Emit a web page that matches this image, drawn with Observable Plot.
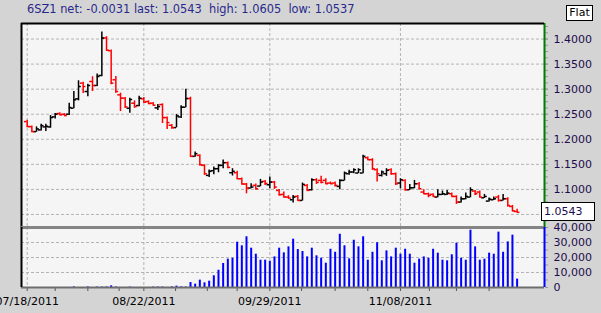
<!DOCTYPE html>
<html><head><meta charset="utf-8">
<script src="https://cdn.jsdelivr.net/npm/d3@7"></script>
<script src="https://cdn.jsdelivr.net/npm/@observablehq/plot@0.6"></script>
<style>
body{margin:0;background:#d4d4d4;}
#wrap{position:relative;width:601px;height:313px;overflow:hidden;background:#d4d4d4;font-family:"DejaVu Sans",sans-serif;}
#wrap svg{position:absolute;left:0;top:0;overflow:visible;background:none;}
#title{position:absolute;left:27px;top:2px;font-size:11.4px;line-height:14px;color:#28288c;white-space:pre;}
#flat{position:absolute;left:566px;top:5px;width:25px;height:14px;border:1px solid #000;background:#fff;font-size:11px;line-height:14px;text-align:center;color:#000;}
#last{position:absolute;left:541px;width:50px;height:17px;border:1px solid #000;background:#fff;font-size:11px;line-height:17px;padding-left:2px;color:#1c0c4c;z-index:5;}
</style></head><body><div id="wrap"><div id="title"></div><div id="flat">Flat</div></div>
<script>
const symbol = "6SZ1";
const open = [1.2353,1.2253,1.2153,1.2187,1.2247,1.2247,1.2447,1.2513,1.2500,1.2500,
 1.2620,1.2807,1.3120,1.2953,1.3153,1.3073,1.3273,1.4020,1.3767,1.3187,
 1.2887,1.2820,1.2620,1.2720,1.2673,1.2807,1.2753,1.2720,1.2627,1.2693,
 1.2433,1.2280,1.2233,1.2447,1.2640,1.2813,1.1660,1.1680,1.1480,1.1280,
 1.1373,1.1413,1.1480,1.1533,1.1333,1.1333,1.1213,1.1107,1.1027,1.1080,
 1.1067,1.1160,1.1093,1.1147,1.0980,1.0900,1.0847,1.0793,1.0860,1.0780,
 1.1080,1.0993,1.1193,1.1180,1.1180,1.1127,1.1127,1.1060,1.1180,1.1313,
 1.1347,1.1327,1.1327,1.1633,1.1593,1.1393,1.1280,1.1313,1.1393,1.1313,
 1.1127,1.1180,1.0993,1.1033,1.1113,1.0947,1.0913,1.0900,1.0847,1.0900,
 1.0900,1.0913,1.0860,1.0747,1.0813,1.0847,1.0967,1.0947,1.0833,1.0767,
 1.0793,1.0847,1.0780,1.0813,1.0660,1.0560];
const high = [1.2380,1.2267,1.2247,1.2300,1.2300,1.2473,1.2513,1.2527,1.2513,1.2720,
 1.2953,1.3167,1.3140,1.3100,1.3247,1.3300,1.4140,1.4047,1.3780,1.3253,
 1.2920,1.2833,1.2820,1.2767,1.2860,1.2833,1.2767,1.2733,1.2693,1.2707,
 1.2447,1.2293,1.2493,1.2667,1.3000,1.2840,1.1747,1.1693,1.1493,1.1387,
 1.1447,1.1493,1.1587,1.1547,1.1413,1.1360,1.1227,1.1120,1.1113,1.1107,
 1.1200,1.1180,1.1247,1.1160,1.1000,1.0947,1.0873,1.0880,1.0880,1.1127,
 1.1100,1.1213,1.1213,1.1260,1.1213,1.1147,1.1147,1.1193,1.1347,1.1380,
 1.1413,1.1413,1.1680,1.1647,1.1613,1.1413,1.1367,1.1413,1.1413,1.1327,
 1.1213,1.1193,1.1100,1.1180,1.1140,1.0993,1.0927,1.0913,1.0993,1.0967,
 1.0980,1.0927,1.0873,1.0847,1.0927,1.1033,1.0980,1.0967,1.0900,1.0827,
 1.0847,1.0880,1.0900,1.0833,1.0680,1.0605];
const low = [1.2233,1.2133,1.2140,1.2167,1.2153,1.2220,1.2407,1.2473,1.2453,1.2473,
 1.2607,1.2767,1.2913,1.2847,1.2953,1.3053,1.3247,1.3753,1.3087,1.2920,
 1.2553,1.2620,1.2520,1.2620,1.2647,1.2720,1.2700,1.2667,1.2573,1.2313,
 1.2193,1.2200,1.2227,1.2413,1.2627,1.1640,1.1640,1.1467,1.1280,1.1240,
 1.1293,1.1333,1.1413,1.1413,1.1267,1.1200,1.1093,1.0913,1.1013,1.0987,
 1.1053,1.1080,1.1013,1.1000,1.0867,1.0833,1.0807,1.0727,1.0767,1.0767,
 1.0967,1.0967,1.1100,1.1113,1.1100,1.1100,1.1047,1.0993,1.1167,1.1280,
 1.1313,1.1313,1.1313,1.1580,1.1380,1.1147,1.1247,1.1260,1.1280,1.1080,
 1.1013,1.0967,1.0980,1.1013,1.0993,1.0900,1.0833,1.0847,1.0833,1.0880,
 1.0880,1.0847,1.0700,1.0727,1.0793,1.0833,1.0880,1.0833,1.0820,1.0747,
 1.0780,1.0747,1.0767,1.0647,1.0553,1.0537];
const close = [1.2253,1.2153,1.2207,1.2273,1.2260,1.2433,1.2500,1.2487,1.2473,1.2633,
 1.2787,1.3053,1.3053,1.3073,1.3073,1.3253,1.4020,1.3780,1.3120,1.2953,
 1.2820,1.2647,1.2793,1.2653,1.2820,1.2740,1.2713,1.2680,1.2653,1.2433,
 1.2333,1.2233,1.2467,1.2640,1.2813,1.1660,1.1713,1.1493,1.1313,1.1360,
 1.1413,1.1480,1.1533,1.1440,1.1360,1.1213,1.1107,1.1027,1.1047,1.1013,
 1.1147,1.1120,1.1147,1.1047,1.0893,1.0847,1.0827,1.0847,1.0780,1.1100,
 1.0980,1.1193,1.1140,1.1140,1.1113,1.1113,1.1080,1.1180,1.1327,1.1347,
 1.1393,1.1393,1.1660,1.1593,1.1413,1.1313,1.1347,1.1380,1.1313,1.1113,
 1.1193,1.0993,1.1033,1.1113,1.1013,1.0913,1.0880,1.0860,1.0900,1.0913,
 1.0927,1.0860,1.0747,1.0813,1.0860,1.0993,1.0913,1.0847,1.0860,1.0807,
 1.0813,1.0780,1.0813,1.0680,1.0574,1.0543];
const volume = [0,0,0,0,0,0,0,0,0,0,
 400,0,0,400,0,300,300,400,1100,300,
 0,0,300,0,0,0,0,300,300,300,
 0,400,900,400,300,3300,2200,4900,3100,4200,
 7800,11500,16000,18900,19500,30200,27800,33800,26200,22200,
 18200,18200,17500,20400,26200,23100,27100,32200,25300,24000,
 20400,26200,21100,19500,16200,25500,23500,35500,27800,19100,
 31500,27100,33800,18200,23500,29800,17800,24400,20400,26200,
 22200,25500,22200,16200,18900,20400,19500,25500,22900,18200,
 17800,21800,29500,19500,18200,38200,27100,18200,18900,22900,
 22200,36900,23500,30400,34900,5600];
const dateLabels = ["07/18/2011","08/22/2011","09/29/2011","11/08/2011"];
const labelIdx = [0,25,52,80];
const minorIdx = [6,13,19.7,31.8,38.6,45,58.8,66,73,86.2,92,99];
const priceTicks = [1.10,1.15,1.20,1.25,1.30,1.35,1.40];
const priceGrid = [1.05,1.10,1.15,1.20,1.25,1.30,1.35,1.40];
const volTicks = [0,10000,20000,30000,40000];

const bars = open.map((o,i)=>({i,o,h:high[i],l:low[i],c:close[i],v:volume[i],col: close[i]>=o ? "#000000" : "#ff0000"}));
const xDomain = [-1.22,110.87];
const yDomain = [1.024,1.431];
const minorPrice = d3.range(1.0375,1.43,0.0125);
const minorVol = d3.range(5000,40000,10000);
const labelColor = "#1c0c4c";
const gridOpt = {stroke:"#b4b4b4",strokeOpacity:1,strokeDasharray:"3,2"};
const common = {width:601,height:313,marginLeft:21,marginRight:57,
  style:{background:"transparent",overflow:"visible",fontFamily:"DejaVu Sans",fontSize:"11px"}};
const f4 = v => v.toFixed(4);

const price = Plot.plot({
  ...common, marginTop:23, marginBottom:86,
  x:{domain:xDomain, axis:null},
  y:{domain:yDomain, axis:null},
  marks:[
    Plot.frame({fill:"#f5f5f5", stroke:null}),
    Plot.gridY({ticks:priceGrid, ...gridOpt}),
    Plot.gridX({ticks:labelIdx, ...gridOpt}),
    Plot.axisY({ticks:minorPrice, anchor:"right", tickSize:3, tickFormat:()=>"", stroke:"#999", label:null}),
    Plot.axisY({ticks:priceTicks, anchor:"right", tickSize:3, stroke:"#999", tickFormat:()=>"", label:null}),
    Plot.axisY({ticks:priceTicks, anchor:"right", tickSize:0, tickPadding:9, tickFormat:f4, fill:labelColor, fontSize:11, label:null}),
    Plot.ruleX(bars, {x:"i", y1:"l", y2:"h", stroke:"col", strokeWidth:1.5}),
    Plot.ruleY(bars, {x1:d=>d.i-0.6, x2:"i", y:"o", stroke:"col", strokeWidth:1.5}),
    Plot.ruleY(bars, {x1:"i", x2:d=>d.i+0.6, y:"c", stroke:"col", strokeWidth:1.5}),
    Plot.ruleX([xDomain[1]], {stroke:"#007a00", strokeWidth:2}),
    Plot.ruleX([xDomain[0]], {stroke:"#000", strokeWidth:2}),
    Plot.ruleY([yDomain[1]], {stroke:"#000", strokeWidth:2})
  ]
});

const vol = Plot.plot({
  ...common, marginTop:227, marginBottom:26,
  x:{domain:xDomain, axis:null},
  y:{domain:[0,40000], axis:null},
  marks:[
    Plot.frame({fill:"#f5f5f5", stroke:null}),
    Plot.gridY({ticks:[10000,20000,30000], ...gridOpt}),
    Plot.gridX({ticks:labelIdx, ...gridOpt}),
    Plot.ruleX(bars.filter(d=>d.v>0), {x:"i", y1:0, y2:"v", stroke:"#0000ff", strokeWidth:2}),
    Plot.axisY({ticks:minorVol, anchor:"right", tickSize:3, tickFormat:()=>"", stroke:"#999", label:null}),
    Plot.axisY({ticks:volTicks, anchor:"right", tickSize:3, tickFormat:()=>"", stroke:"#999", label:null}),
    Plot.axisY({ticks:volTicks, anchor:"right", tickSize:0, tickPadding:9, tickFormat:d3.format(","), fill:labelColor, fontSize:11, label:null}),
    Plot.axisX({ticks:minorIdx.concat(labelIdx), tickSize:4, tickFormat:()=>"", stroke:"#555", label:null}),
    Plot.axisX({ticks:labelIdx, tickSize:0, tickPadding:10, tickFormat:d=>dateLabels[labelIdx.indexOf(d)], fill:"#000", fontSize:11, label:null}),
    Plot.ruleY([0], {stroke:"#6e6e6e", strokeWidth:2}),
    Plot.ruleY([40000], {stroke:"#858585", strokeWidth:3}),
    Plot.ruleX([xDomain[1]], {stroke:"#0000ff", strokeWidth:2}),
    Plot.ruleX([xDomain[0]], {stroke:"#000", strokeWidth:2})
  ]
});

const wrap = document.getElementById("wrap");
wrap.appendChild(price);
wrap.appendChild(vol);

const n = close.length - 1;
document.getElementById("title").textContent =
  `${symbol} net: ${f4(close[n]-close[n-1])} last: ${f4(close[n])}  high: ${f4(high[n])}  low: ${f4(low[n])}`;

const lastBox = document.createElement("div");
lastBox.id = "last";
lastBox.textContent = f4(close[n]);
lastBox.style.top = (price.scale("y").apply(close[n]) - 9.5) + "px";
wrap.appendChild(lastBox);
</script></body></html>
